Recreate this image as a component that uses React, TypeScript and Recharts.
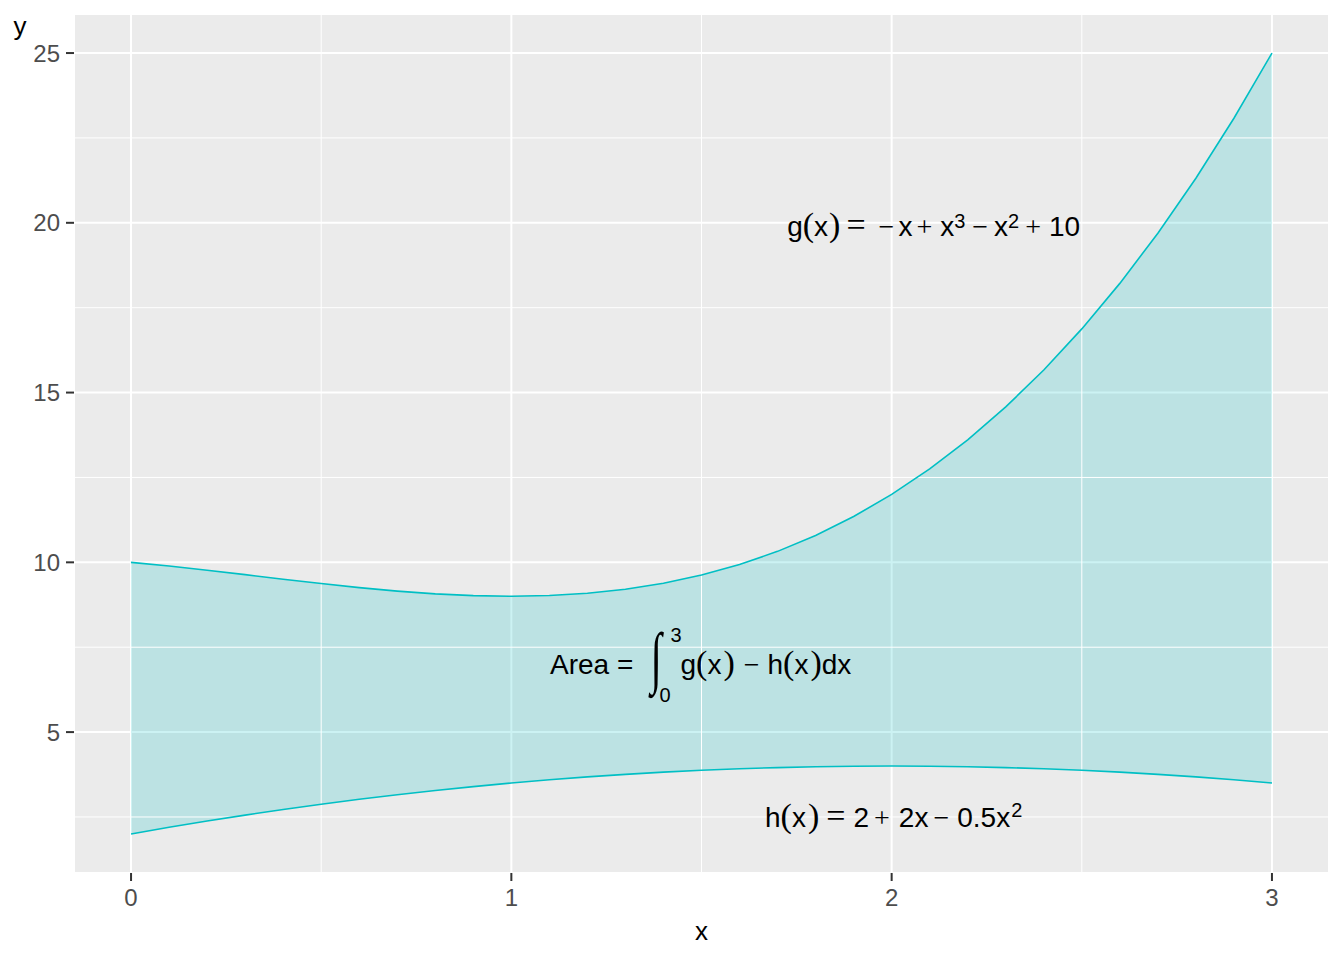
import React from 'react';
import {
  ComposedChart,
  Area,
  Line,
  XAxis,
  YAxis,
  CartesianGrid,
  ReferenceLine,
  ReferenceDot,
  Label,
} from 'recharts';

const xValues = [
  0, 0.1, 0.2, 0.3, 0.4, 0.5, 0.6, 0.7, 0.8, 0.9, 1.0, 1.1, 1.2, 1.3, 1.4, 1.5,
  1.6, 1.7, 1.8, 1.9, 2.0, 2.1, 2.2, 2.3, 2.4, 2.5, 2.6, 2.7, 2.8, 2.9, 3.0,
];
const gValues = [
  10, 9.891, 9.768, 9.637, 9.504, 9.375, 9.256, 9.153, 9.072, 9.019, 9.0, 9.021,
  9.088, 9.207, 9.384, 9.625, 9.936, 10.323, 10.792, 11.349, 12.0, 12.751, 13.608,
  14.577, 15.664, 16.875, 18.216, 19.693, 21.312, 23.079, 25.0,
];
const hValues = [
  2.0, 2.195, 2.38, 2.555, 2.72, 2.875, 3.02, 3.155, 3.28, 3.395, 3.5, 3.595, 3.68,
  3.755, 3.82, 3.875, 3.92, 3.955, 3.98, 3.995, 4.0, 3.995, 3.98, 3.955, 3.92, 3.875,
  3.82, 3.755, 3.68, 3.595, 3.5,
];
const xTicks = [0, 1, 2, 3];
const yTicks = [5, 10, 15, 20, 25];
const xMinor = [0.5, 1.5, 2.5];
const yMinor = [2.5, 7.5, 12.5, 17.5, 22.5];

const data = xValues.map((x, i) => ({
  x,
  g: gValues[i],
  h: hValues[i],
  band: [hValues[i], gValues[i]],
}));

const SANS = '"Liberation Sans", Arial, sans-serif';
const SERIF = '"Liberation Serif", "DejaVu Serif", serif';
const TEAL = '#00BFC4';

const P = (c: string, dx?: number) => (
  <tspan fontFamily={SERIF} fontSize={34} dx={dx}>
    {c}
  </tspan>
);

const GLabel = (props: any) => {
  const { cx, cy } = props;
  return (
    <text x={cx + 4} y={cy + 13} textAnchor="middle" fontFamily={SANS} fontSize={28} fill="#000">
      <tspan>g</tspan>
      {P('(')}
      <tspan>x</tspan>
      {P(')', 1)}
      <tspan fontFamily={SERIF} fontSize={34} dx={6}>=</tspan>
      <tspan fontFamily={SERIF} dx={13}>−</tspan>
      <tspan dx={4}>x</tspan>
      <tspan fontFamily={SERIF} dx={4}>+</tspan>
      <tspan dx={8}>x</tspan>
      <tspan fontSize={20} dy={-8}>3</tspan>
      <tspan fontFamily={SERIF} dy={8} dx={7}>−</tspan>
      <tspan dx={6}>x</tspan>
      <tspan fontSize={20} dy={-8}>2</tspan>
      <tspan fontFamily={SERIF} dy={8} dx={6}>+</tspan>
      <tspan dx={8}>10</tspan>
    </text>
  );
};

const HLabel = (props: any) => {
  const { cx, cy } = props;
  return (
    <text x={cx + 2} y={cy + 10} textAnchor="middle" fontFamily={SANS} fontSize={28} fill="#000">
      <tspan>h</tspan>
      {P('(')}
      <tspan>x</tspan>
      {P(')', 2)}
      <tspan fontFamily={SERIF} fontSize={34} dx={7}>=</tspan>
      <tspan dx={8}>2</tspan>
      <tspan fontFamily={SERIF} dx={5}>+</tspan>
      <tspan dx={9}>2x</tspan>
      <tspan fontFamily={SERIF} dx={5}>−</tspan>
      <tspan dx={8}>0.5x</tspan>
      <tspan fontSize={20} dy={-10} dx={1}>2</tspan>
    </text>
  );
};

const AreaLabel = (props: any) => {
  const { cx, cy } = props;
  return (
    <g>
      <text x={cx - 151.5} y={cy + 10} fontFamily={SANS} fontSize={28} fill="#000">
        Area =
      </text>
      <text
        transform={`translate(${cx - 45.5},${cy + 16}) scale(0.6,1)`}
        x={0}
        y={0}
        textAnchor="middle"
        fontFamily={SERIF}
        fontSize={68}
        fill="#000"
      >
        ∫
      </text>
      <text x={cx - 31} y={cy - 22} fontFamily={SANS} fontSize={20} fill="#000">
        3
      </text>
      <text x={cx - 42} y={cy + 38} fontFamily={SANS} fontSize={20} fill="#000">
        0
      </text>
      <text x={cx - 21} y={cy + 10} fontFamily={SANS} fontSize={28} fill="#000">
        <tspan>g</tspan>
        {P('(')}
        <tspan>x</tspan>
        {P(')', 2)}
        <tspan fontFamily={SERIF} dx={9}>−</tspan>
        <tspan dx={8}>h</tspan>
        {P('(')}
        <tspan>x</tspan>
        {P(')', 2)}
        <tspan>dx</tspan>
      </text>
    </g>
  );
};

const XTitle = (props: any) => {
  const vb = props.viewBox || { x: 0, y: 0, width: 0, height: 0 };
  return (
    <text x={vb.x + vb.width / 2} y={vb.y + 67} textAnchor="middle" fontFamily={SANS} fontSize={26} fill="#000">
      x
    </text>
  );
};

const YTitle = (props: any) => {
  const vb = props.viewBox || { x: 0, y: 0, width: 0, height: 0 };
  return (
    <text x={vb.x + 20} y={vb.y + 21} textAnchor="middle" fontFamily={SANS} fontSize={26} fill="#000">
      y
    </text>
  );
};

export default function App() {
  return (
    <div style={{ position: 'absolute', left: 0, top: 0, width: 1344, height: 960, background: '#fff' }}>
      <ComposedChart width={1344} height={960} data={data} margin={{ top: 14, right: 15, bottom: 0, left: 0 }}>
        <CartesianGrid fill="#EBEBEB" stroke="#FFFFFF" strokeWidth={2} />
        <XAxis
          type="number"
          dataKey="x"
          domain={[-0.15, 3.15]}
          ticks={xTicks}
          allowDataOverflow
          axisLine={false}
          tickSize={8}
          tickMargin={8}
          tickLine={{ stroke: '#333333', strokeWidth: 2 }}
          tick={{ fill: '#4D4D4D', fontSize: 24, fontFamily: SANS }}
          height={87}
        >
          <Label content={XTitle} />
        </XAxis>
        <YAxis
          type="number"
          domain={[0.85, 26.15]}
          ticks={yTicks}
          allowDataOverflow
          axisLine={false}
          tickSize={8}
          tickMargin={6}
          tickLine={{ stroke: '#333333', strokeWidth: 2 }}
          tick={{ fill: '#4D4D4D', fontSize: 24, fontFamily: SANS }}
          width={74}
        >
          <Label content={YTitle} />
        </YAxis>
        {xMinor.map((v) => (
          <ReferenceLine key={'xm' + v} x={v} stroke="#FFFFFF" strokeWidth={1} />
        ))}
        {yMinor.map((v) => (
          <ReferenceLine key={'ym' + v} y={v} stroke="#FFFFFF" strokeWidth={1} />
        ))}
        <Area
          dataKey="band"
          type="linear"
          stroke="none"
          fill={TEAL}
          fillOpacity={0.2}
          activeDot={false}
          isAnimationActive={false}
        />
        <Line dataKey="g" type="linear" stroke={TEAL} strokeWidth={1.6} dot={false} activeDot={false} isAnimationActive={false} />
        <Line dataKey="h" type="linear" stroke={TEAL} strokeWidth={1.6} dot={false} activeDot={false} isAnimationActive={false} />
        <ReferenceDot x={2.1} y={20} r={1} fill="none" stroke="none" shape={GLabel} />
        <ReferenceDot x={2} y={2.5} r={1} fill="none" stroke="none" shape={HLabel} />
        <ReferenceDot x={1.5} y={7} r={1} fill="none" stroke="none" shape={AreaLabel} />
      </ComposedChart>
    </div>
  );
}
